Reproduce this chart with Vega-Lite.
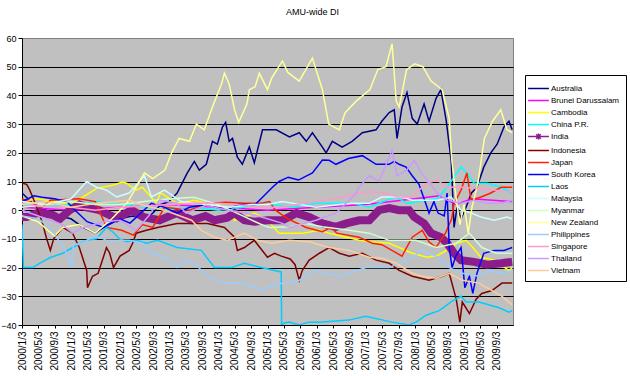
{
  "$schema": "https://vega.github.io/schema/vega-lite/v6.json",
  "autosize": "none",
  "width": 491,
  "height": 287,
  "padding": {"left": 22, "top": 38, "right": 117, "bottom": 51},
  "background": "white",
  "title": {"text": "AMU-wide DI", "fontSize": 9, "fontWeight": "normal", "font": "Liberation Sans", "color": "black", "frame": "group", "anchor": "middle", "dx": 45, "offset": 17},
  "config": {
    "view": {"fill": "#c0c0c0", "stroke": "#808080", "strokeWidth": 1},
    "axis": {"labelFont": "Liberation Sans", "labelColor": "black", "domainColor": "black", "tickColor": "black", "title": null}
  },
  "data": {"values": [
    {"s":"Australia","t":"2000/1/3","v":6},{"s":"Australia","t":"2000/4/1","v":2},{"s":"Australia","t":"2000/7/1","v":0},{"s":"Australia","t":"2000/10/1","v":-2},{"s":"Australia","t":"2001/1/1","v":-3},{"s":"Australia","t":"2001/4/1","v":-6},{"s":"Australia","t":"2001/7/1","v":-8},{"s":"Australia","t":"2001/10/1","v":-5},{"s":"Australia","t":"2002/1/1","v":-3},{"s":"Australia","t":"2002/4/1","v":-2},{"s":"Australia","t":"2002/7/1","v":-3},{"s":"Australia","t":"2002/9/1","v":-1},{"s":"Australia","t":"2002/11/1","v":2},{"s":"Australia","t":"2003/1/1","v":3},{"s":"Australia","t":"2003/3/1","v":6},{"s":"Australia","t":"2003/5/16","v":13},{"s":"Australia","t":"2003/7/7","v":17},{"s":"Australia","t":"2003/8/13","v":14},{"s":"Australia","t":"2003/10/4","v":16},{"s":"Australia","t":"2003/11/19","v":24},{"s":"Australia","t":"2003/12/25","v":23},{"s":"Australia","t":"2004/2/1","v":29},{"s":"Australia","t":"2004/2/25","v":30.6},{"s":"Australia","t":"2004/3/22","v":24},{"s":"Australia","t":"2004/4/16","v":25},{"s":"Australia","t":"2004/5/22","v":18.5},{"s":"Australia","t":"2004/6/28","v":16},{"s":"Australia","t":"2004/8/19","v":22},{"s":"Australia","t":"2004/9/25","v":16.5},{"s":"Australia","t":"2004/11/25","v":28},{"s":"Australia","t":"2005/3/7","v":28},{"s":"Australia","t":"2005/6/13","v":25.5},{"s":"Australia","t":"2005/8/25","v":27},{"s":"Australia","t":"2005/10/16","v":24},{"s":"Australia","t":"2005/12/1","v":27},{"s":"Australia","t":"2006/2/13","v":22},{"s":"Australia","t":"2006/3/13","v":20},{"s":"Australia","t":"2006/4/28","v":24},{"s":"Australia","t":"2006/7/10","v":22},{"s":"Australia","t":"2006/9/22","v":24},{"s":"Australia","t":"2006/12/7","v":27},{"s":"Australia","t":"2007/3/19","v":28},{"s":"Australia","t":"2007/5/1","v":31},{"s":"Australia","t":"2007/6/25","v":34},{"s":"Australia","t":"2007/8/1","v":35},{"s":"Australia","t":"2007/8/22","v":25},{"s":"Australia","t":"2007/9/28","v":36},{"s":"Australia","t":"2007/11/4","v":41},{"s":"Australia","t":"2007/12/13","v":32},{"s":"Australia","t":"2008/1/19","v":30},{"s":"Australia","t":"2008/3/10","v":37},{"s":"Australia","t":"2008/4/16","v":31},{"s":"Australia","t":"2008/6/7","v":39},{"s":"Australia","t":"2008/7/13","v":42},{"s":"Australia","t":"2008/8/22","v":31},{"s":"Australia","t":"2008/9/28","v":17},{"s":"Australia","t":"2008/10/19","v":-6},{"s":"Australia","t":"2008/11/10","v":1},{"s":"Australia","t":"2008/12/10","v":-3},{"s":"Australia","t":"2009/1/16","v":1},{"s":"Australia","t":"2009/2/25","v":6},{"s":"Australia","t":"2009/4/7","v":8},{"s":"Australia","t":"2009/5/28","v":15},{"s":"Australia","t":"2009/7/19","v":20},{"s":"Australia","t":"2009/9/4","v":23},{"s":"Australia","t":"2009/10/25","v":29},{"s":"Australia","t":"2009/12/1","v":31},{"s":"Australia","t":"2009/12/25","v":28},
    {"s":"Brunei Darussalam","t":"2000/1/3","v":1},{"s":"Brunei Darussalam","t":"2001/1/1","v":0},{"s":"Brunei Darussalam","t":"2002/1/1","v":1},{"s":"Brunei Darussalam","t":"2003/1/1","v":2},{"s":"Brunei Darussalam","t":"2004/1/1","v":1},{"s":"Brunei Darussalam","t":"2005/1/1","v":0},{"s":"Brunei Darussalam","t":"2006/1/1","v":1},{"s":"Brunei Darussalam","t":"2007/1/1","v":2},{"s":"Brunei Darussalam","t":"2008/1/1","v":4},{"s":"Brunei Darussalam","t":"2008/7/1","v":5},{"s":"Brunei Darussalam","t":"2008/11/1","v":2},{"s":"Brunei Darussalam","t":"2009/3/1","v":4},{"s":"Brunei Darussalam","t":"2009/12/25","v":3},
    {"s":"Cambodia","t":"2000/1/3","v":3},{"s":"Cambodia","t":"2000/5/1","v":4},{"s":"Cambodia","t":"2000/9/1","v":3},{"s":"Cambodia","t":"2001/1/1","v":2},{"s":"Cambodia","t":"2001/4/1","v":4.6},{"s":"Cambodia","t":"2001/7/10","v":7.6},{"s":"Cambodia","t":"2001/11/7","v":8.7},{"s":"Cambodia","t":"2002/1/19","v":9.8},{"s":"Cambodia","t":"2002/2/19","v":9.4},{"s":"Cambodia","t":"2002/5/1","v":7},{"s":"Cambodia","t":"2002/6/16","v":8},{"s":"Cambodia","t":"2002/9/28","v":2.4},{"s":"Cambodia","t":"2002/10/28","v":6},{"s":"Cambodia","t":"2003/3/1","v":2.4},{"s":"Cambodia","t":"2003/7/7","v":3.5},{"s":"Cambodia","t":"2003/11/1","v":2},{"s":"Cambodia","t":"2004/3/7","v":1},{"s":"Cambodia","t":"2004/5/1","v":-3.5},{"s":"Cambodia","t":"2004/7/13","v":-2.4},{"s":"Cambodia","t":"2004/9/25","v":-1},{"s":"Cambodia","t":"2005/1/1","v":-3.5},{"s":"Cambodia","t":"2005/3/28","v":-8},{"s":"Cambodia","t":"2005/6/13","v":-8},{"s":"Cambodia","t":"2005/9/22","v":-8},{"s":"Cambodia","t":"2006/1/22","v":-7},{"s":"Cambodia","t":"2006/4/4","v":-8},{"s":"Cambodia","t":"2006/8/10","v":-9.4},{"s":"Cambodia","t":"2006/11/13","v":-10.5},{"s":"Cambodia","t":"2007/2/19","v":-11},{"s":"Cambodia","t":"2007/6/25","v":-11.5},{"s":"Cambodia","t":"2007/12/13","v":-15},{"s":"Cambodia","t":"2008/4/1","v":-16.4},{"s":"Cambodia","t":"2008/6/22","v":-15.7},{"s":"Cambodia","t":"2008/9/28","v":-13},{"s":"Cambodia","t":"2008/11/10","v":-11.5},{"s":"Cambodia","t":"2009/1/16","v":-10.5},{"s":"Cambodia","t":"2009/3/7","v":-13},{"s":"Cambodia","t":"2009/5/7","v":-16.4},{"s":"Cambodia","t":"2009/8/13","v":-17.4},{"s":"Cambodia","t":"2009/12/1","v":-21},{"s":"Cambodia","t":"2009/12/25","v":-20},
    {"s":"China P.R.","t":"2000/1/3","v":2},{"s":"China P.R.","t":"2000/7/1","v":1},{"s":"China P.R.","t":"2001/1/1","v":2},{"s":"China P.R.","t":"2001/7/1","v":3},{"s":"China P.R.","t":"2002/1/1","v":2},{"s":"China P.R.","t":"2002/7/1","v":1},{"s":"China P.R.","t":"2003/1/1","v":0},{"s":"China P.R.","t":"2003/7/1","v":1},{"s":"China P.R.","t":"2004/1/1","v":0},{"s":"China P.R.","t":"2004/7/1","v":1},{"s":"China P.R.","t":"2004/11/16","v":2.4},{"s":"China P.R.","t":"2005/7/1","v":1},{"s":"China P.R.","t":"2005/12/28","v":2.4},{"s":"China P.R.","t":"2006/4/4","v":2.4},{"s":"China P.R.","t":"2006/10/1","v":2.4},{"s":"China P.R.","t":"2007/1/28","v":1},{"s":"China P.R.","t":"2007/4/10","v":2.4},{"s":"China P.R.","t":"2007/6/4","v":3.5},{"s":"China P.R.","t":"2007/8/16","v":4.6},{"s":"China P.R.","t":"2007/11/4","v":2.4},{"s":"China P.R.","t":"2008/4/1","v":3.5},{"s":"China P.R.","t":"2008/6/16","v":4},{"s":"China P.R.","t":"2008/8/28","v":8},{"s":"China P.R.","t":"2008/10/19","v":11.5},{"s":"China P.R.","t":"2008/12/10","v":15},{"s":"China P.R.","t":"2009/1/22","v":13},{"s":"China P.R.","t":"2009/3/16","v":9.4},{"s":"China P.R.","t":"2009/6/22","v":9.4},{"s":"China P.R.","t":"2009/10/4","v":8},{"s":"China P.R.","t":"2009/12/25","v":6},
    {"s":"India","t":"2000/1/3","v":-2.4},{"s":"India","t":"2000/2/7","v":-2.4},{"s":"India","t":"2000/5/13","v":-0.7},{"s":"India","t":"2000/6/4","v":-1},{"s":"India","t":"2000/8/19","v":-1.7},{"s":"India","t":"2000/10/10","v":-3},{"s":"India","t":"2000/12/22","v":0},{"s":"India","t":"2001/3/4","v":2},{"s":"India","t":"2001/4/28","v":1},{"s":"India","t":"2001/8/1","v":0},{"s":"India","t":"2001/10/16","v":-1.7},{"s":"India","t":"2001/12/7","v":-2.8},{"s":"India","t":"2002/3/28","v":0},{"s":"India","t":"2002/6/25","v":-2.4},{"s":"India","t":"2002/10/22","v":-3.5},{"s":"India","t":"2003/2/25","v":-1},{"s":"India","t":"2003/6/22","v":-3.5},{"s":"India","t":"2003/9/28","v":-2},{"s":"India","t":"2003/12/4","v":-3.5},{"s":"India","t":"2004/3/7","v":-2.6},{"s":"India","t":"2004/5/1","v":-1},{"s":"India","t":"2004/7/13","v":-3.5},{"s":"India","t":"2004/9/25","v":-4},{"s":"India","t":"2005/1/1","v":-3.5},{"s":"India","t":"2005/4/22","v":-3.5},{"s":"India","t":"2005/8/4","v":-1},{"s":"India","t":"2005/11/7","v":-2.4},{"s":"India","t":"2006/2/13","v":-4.6},{"s":"India","t":"2006/5/25","v":-5.8},{"s":"India","t":"2006/8/10","v":-4.6},{"s":"India","t":"2006/11/13","v":-3.5},{"s":"India","t":"2007/1/28","v":-3.5},{"s":"India","t":"2007/4/10","v":0},{"s":"India","t":"2007/6/25","v":0.7},{"s":"India","t":"2007/9/7","v":0},{"s":"India","t":"2007/11/19","v":0},{"s":"India","t":"2007/12/28","v":-2.4},{"s":"India","t":"2008/3/10","v":-4.6},{"s":"India","t":"2008/5/1","v":-8},{"s":"India","t":"2008/7/13","v":-9.4},{"s":"India","t":"2008/8/28","v":-11.5},{"s":"India","t":"2008/10/19","v":-15},{"s":"India","t":"2008/12/10","v":-17.4},{"s":"India","t":"2009/3/16","v":-18},{"s":"India","t":"2009/6/22","v":-19},{"s":"India","t":"2009/10/4","v":-18.5},{"s":"India","t":"2009/12/25","v":-18},
    {"s":"Indonesia","t":"2000/1/3","v":9.4},{"s":"Indonesia","t":"2000/2/7","v":9},{"s":"Indonesia","t":"2000/3/1","v":7},{"s":"Indonesia","t":"2000/4/22","v":1},{"s":"Indonesia","t":"2000/6/4","v":-4.6},{"s":"Indonesia","t":"2000/7/1","v":-9.4},{"s":"Indonesia","t":"2000/8/1","v":-14},{"s":"Indonesia","t":"2000/8/25","v":-10},{"s":"Indonesia","t":"2000/11/1","v":-6},{"s":"Indonesia","t":"2001/1/13","v":-8},{"s":"Indonesia","t":"2001/3/4","v":-13},{"s":"Indonesia","t":"2001/4/28","v":-21},{"s":"Indonesia","t":"2001/5/4","v":-27},{"s":"Indonesia","t":"2001/6/10","v":-23},{"s":"Indonesia","t":"2001/7/22","v":-22},{"s":"Indonesia","t":"2001/9/22","v":-13},{"s":"Indonesia","t":"2001/10/16","v":-15},{"s":"Indonesia","t":"2001/11/13","v":-20},{"s":"Indonesia","t":"2002/1/1","v":-16},{"s":"Indonesia","t":"2002/3/10","v":-14},{"s":"Indonesia","t":"2002/4/4","v":-11.5},{"s":"Indonesia","t":"2002/5/1","v":-8},{"s":"Indonesia","t":"2002/7/16","v":-7},{"s":"Indonesia","t":"2002/10/7","v":-6},{"s":"Indonesia","t":"2003/3/1","v":-4.6},{"s":"Indonesia","t":"2003/10/13","v":-4.6},{"s":"Indonesia","t":"2004/2/16","v":-6},{"s":"Indonesia","t":"2004/5/1","v":-9.4},{"s":"Indonesia","t":"2004/5/22","v":-14},{"s":"Indonesia","t":"2004/7/13","v":-13},{"s":"Indonesia","t":"2004/9/25","v":-10.5},{"s":"Indonesia","t":"2005/1/1","v":-16.4},{"s":"Indonesia","t":"2005/2/22","v":-15},{"s":"Indonesia","t":"2005/4/13","v":-16},{"s":"Indonesia","t":"2005/6/19","v":-17},{"s":"Indonesia","t":"2005/7/25","v":-19},{"s":"Indonesia","t":"2005/8/25","v":-24.4},{"s":"Indonesia","t":"2005/9/16","v":-21},{"s":"Indonesia","t":"2005/11/7","v":-17.4},{"s":"Indonesia","t":"2006/1/22","v":-15},{"s":"Indonesia","t":"2006/4/4","v":-13},{"s":"Indonesia","t":"2006/6/19","v":-15},{"s":"Indonesia","t":"2006/9/1","v":-16},{"s":"Indonesia","t":"2006/12/7","v":-15},{"s":"Indonesia","t":"2007/3/19","v":-17.4},{"s":"Indonesia","t":"2007/6/25","v":-18.5},{"s":"Indonesia","t":"2007/9/7","v":-21},{"s":"Indonesia","t":"2007/12/13","v":-23},{"s":"Indonesia","t":"2008/4/16","v":-24.4},{"s":"Indonesia","t":"2008/7/22","v":-23},{"s":"Indonesia","t":"2008/9/13","v":-22},{"s":"Indonesia","t":"2008/11/4","v":-31},{"s":"Indonesia","t":"2008/12/1","v":-39},{"s":"Indonesia","t":"2008/12/19","v":-32},{"s":"Indonesia","t":"2009/2/10","v":-36},{"s":"Indonesia","t":"2009/4/1","v":-31},{"s":"Indonesia","t":"2009/5/13","v":-29},{"s":"Indonesia","t":"2009/7/28","v":-28},{"s":"Indonesia","t":"2009/10/10","v":-25.4},{"s":"Indonesia","t":"2009/12/25","v":-25.4},
    {"s":"Japan","t":"2000/1/3","v":4},{"s":"Japan","t":"2000/6/1","v":1},{"s":"Japan","t":"2000/8/1","v":3.5},{"s":"Japan","t":"2001/3/1","v":4},{"s":"Japan","t":"2001/7/1","v":3},{"s":"Japan","t":"2001/9/22","v":-6},{"s":"Japan","t":"2002/1/13","v":-7},{"s":"Japan","t":"2002/4/10","v":-8.7},{"s":"Japan","t":"2002/6/16","v":-5},{"s":"Japan","t":"2002/9/1","v":-6},{"s":"Japan","t":"2002/11/28","v":1},{"s":"Japan","t":"2003/6/1","v":0},{"s":"Japan","t":"2003/10/13","v":2.4},{"s":"Japan","t":"2004/3/1","v":2.8},{"s":"Japan","t":"2004/7/13","v":2.4},{"s":"Japan","t":"2004/11/16","v":2.4},{"s":"Japan","t":"2005/1/16","v":3},{"s":"Japan","t":"2005/3/1","v":0},{"s":"Japan","t":"2005/6/1","v":-3},{"s":"Japan","t":"2005/10/16","v":-6},{"s":"Japan","t":"2006/2/13","v":-7.5},{"s":"Japan","t":"2006/4/19","v":-6},{"s":"Japan","t":"2006/6/1","v":-8},{"s":"Japan","t":"2006/11/13","v":-9.4},{"s":"Japan","t":"2007/2/19","v":-11.5},{"s":"Japan","t":"2007/5/1","v":-12},{"s":"Japan","t":"2007/9/28","v":-16},{"s":"Japan","t":"2007/12/13","v":-9.4},{"s":"Japan","t":"2008/2/25","v":-7},{"s":"Japan","t":"2008/4/16","v":-11},{"s":"Japan","t":"2008/6/7","v":-13},{"s":"Japan","t":"2008/8/16","v":-8},{"s":"Japan","t":"2008/10/1","v":-3},{"s":"Japan","t":"2008/10/19","v":2.4},{"s":"Japan","t":"2008/12/10","v":7},{"s":"Japan","t":"2009/1/22","v":13},{"s":"Japan","t":"2009/2/22","v":3.5},{"s":"Japan","t":"2009/5/7","v":4.6},{"s":"Japan","t":"2009/7/19","v":6},{"s":"Japan","t":"2009/10/4","v":8},{"s":"Japan","t":"2009/12/25","v":8},
    {"s":"South Korea","t":"2000/1/3","v":3},{"s":"South Korea","t":"2000/4/1","v":5},{"s":"South Korea","t":"2000/6/1","v":4.5},{"s":"South Korea","t":"2000/9/1","v":4},{"s":"South Korea","t":"2000/12/1","v":3},{"s":"South Korea","t":"2001/2/1","v":0},{"s":"South Korea","t":"2001/5/1","v":-4},{"s":"South Korea","t":"2001/9/1","v":-6},{"s":"South Korea","t":"2002/1/1","v":-3},{"s":"South Korea","t":"2002/3/16","v":-4.5},{"s":"South Korea","t":"2002/8/22","v":2.4},{"s":"South Korea","t":"2002/11/28","v":1},{"s":"South Korea","t":"2003/3/1","v":-1},{"s":"South Korea","t":"2003/6/1","v":1},{"s":"South Korea","t":"2003/10/1","v":2},{"s":"South Korea","t":"2004/3/1","v":0},{"s":"South Korea","t":"2004/6/1","v":2},{"s":"South Korea","t":"2004/10/1","v":2},{"s":"South Korea","t":"2004/11/25","v":4.5},{"s":"South Korea","t":"2005/2/7","v":8},{"s":"South Korea","t":"2005/3/28","v":10},{"s":"South Korea","t":"2005/6/4","v":11.5},{"s":"South Korea","t":"2005/8/19","v":10.5},{"s":"South Korea","t":"2005/12/1","v":13},{"s":"South Korea","t":"2006/2/13","v":17.5},{"s":"South Korea","t":"2006/4/4","v":17.4},{"s":"South Korea","t":"2006/5/25","v":16},{"s":"South Korea","t":"2006/8/25","v":18},{"s":"South Korea","t":"2006/12/7","v":19},{"s":"South Korea","t":"2007/3/19","v":16},{"s":"South Korea","t":"2007/6/25","v":16},{"s":"South Korea","t":"2007/8/1","v":17},{"s":"South Korea","t":"2007/9/7","v":16},{"s":"South Korea","t":"2007/10/28","v":15},{"s":"South Korea","t":"2007/12/13","v":12},{"s":"South Korea","t":"2008/2/1","v":9},{"s":"South Korea","t":"2008/3/10","v":4},{"s":"South Korea","t":"2008/4/16","v":-1},{"s":"South Korea","t":"2008/5/22","v":3},{"s":"South Korea","t":"2008/6/22","v":-1},{"s":"South Korea","t":"2008/8/7","v":-2},{"s":"South Korea","t":"2008/8/28","v":6},{"s":"South Korea","t":"2008/9/13","v":-13},{"s":"South Korea","t":"2008/10/4","v":-20},{"s":"South Korea","t":"2008/11/1","v":-16},{"s":"South Korea","t":"2008/12/10","v":-13},{"s":"South Korea","t":"2009/1/7","v":-27},{"s":"South Korea","t":"2009/2/10","v":-23},{"s":"South Korea","t":"2009/3/7","v":-29},{"s":"South Korea","t":"2009/4/7","v":-22},{"s":"South Korea","t":"2009/5/28","v":-15},{"s":"South Korea","t":"2009/8/13","v":-14},{"s":"South Korea","t":"2009/10/25","v":-14},{"s":"South Korea","t":"2009/12/25","v":-13},
    {"s":"Laos","t":"2000/1/3","v":-5},{"s":"Laos","t":"2000/1/14","v":-20},{"s":"Laos","t":"2000/3/22","v":-20},{"s":"Laos","t":"2000/5/13","v":-18.5},{"s":"Laos","t":"2000/8/1","v":-16.5},{"s":"Laos","t":"2000/11/1","v":-15},{"s":"Laos","t":"2001/1/13","v":-13},{"s":"Laos","t":"2001/4/28","v":-10.5},{"s":"Laos","t":"2001/7/10","v":-10},{"s":"Laos","t":"2001/9/22","v":-6},{"s":"Laos","t":"2001/11/7","v":-7.5},{"s":"Laos","t":"2001/12/28","v":-10},{"s":"Laos","t":"2002/2/19","v":-11},{"s":"Laos","t":"2002/5/1","v":-10.5},{"s":"Laos","t":"2002/7/16","v":-11.5},{"s":"Laos","t":"2002/10/7","v":-10.5},{"s":"Laos","t":"2003/3/1","v":-13},{"s":"Laos","t":"2003/8/28","v":-14},{"s":"Laos","t":"2003/12/4","v":-20},{"s":"Laos","t":"2004/4/7","v":-20},{"s":"Laos","t":"2004/7/13","v":-18.5},{"s":"Laos","t":"2004/11/16","v":-20},{"s":"Laos","t":"2005/2/22","v":-21},{"s":"Laos","t":"2005/4/13","v":-21.5},{"s":"Laos","t":"2005/4/16","v":-40},{"s":"Laos","t":"2005/5/1","v":-39.4},{"s":"Laos","t":"2005/6/13","v":-39},{"s":"Laos","t":"2005/8/25","v":-40},{"s":"Laos","t":"2005/11/7","v":-39},{"s":"Laos","t":"2006/1/19","v":-39},{"s":"Laos","t":"2006/8/28","v":-38.3},{"s":"Laos","t":"2007/1/1","v":-37},{"s":"Laos","t":"2007/7/16","v":-39},{"s":"Laos","t":"2007/11/19","v":-40},{"s":"Laos","t":"2008/1/10","v":-39},{"s":"Laos","t":"2008/3/25","v":-36.6},{"s":"Laos","t":"2008/7/1","v":-35},{"s":"Laos","t":"2008/10/4","v":-31.7},{"s":"Laos","t":"2008/12/10","v":-30},{"s":"Laos","t":"2009/1/16","v":-32},{"s":"Laos","t":"2009/4/22","v":-32},{"s":"Laos","t":"2009/9/19","v":-34},{"s":"Laos","t":"2009/12/1","v":-35.5},{"s":"Laos","t":"2009/12/25","v":-35},
    {"s":"Malaysia","t":"2000/1/3","v":3},{"s":"Malaysia","t":"2000/7/1","v":2},{"s":"Malaysia","t":"2001/1/1","v":4},{"s":"Malaysia","t":"2001/4/28","v":10},{"s":"Malaysia","t":"2001/7/10","v":8},{"s":"Malaysia","t":"2001/9/22","v":7},{"s":"Malaysia","t":"2001/12/7","v":4.6},{"s":"Malaysia","t":"2002/3/10","v":6},{"s":"Malaysia","t":"2002/5/25","v":10},{"s":"Malaysia","t":"2002/7/1","v":12},{"s":"Malaysia","t":"2002/8/22","v":4.6},{"s":"Malaysia","t":"2002/11/28","v":7},{"s":"Malaysia","t":"2003/4/1","v":3},{"s":"Malaysia","t":"2003/10/1","v":2},{"s":"Malaysia","t":"2004/4/1","v":1},{"s":"Malaysia","t":"2004/9/1","v":2},{"s":"Malaysia","t":"2005/1/1","v":2},{"s":"Malaysia","t":"2005/4/22","v":3},{"s":"Malaysia","t":"2005/12/28","v":1},{"s":"Malaysia","t":"2006/9/16","v":2.4},{"s":"Malaysia","t":"2007/1/28","v":2.4},{"s":"Malaysia","t":"2007/5/1","v":4.6},{"s":"Malaysia","t":"2007/9/28","v":4.6},{"s":"Malaysia","t":"2007/12/13","v":3.5},{"s":"Malaysia","t":"2008/6/22","v":3.5},{"s":"Malaysia","t":"2008/9/28","v":4.6},{"s":"Malaysia","t":"2008/12/10","v":0},{"s":"Malaysia","t":"2009/2/25","v":-1},{"s":"Malaysia","t":"2009/5/7","v":-2.4},{"s":"Malaysia","t":"2009/8/13","v":-3.5},{"s":"Malaysia","t":"2009/11/16","v":-2.4},{"s":"Malaysia","t":"2009/12/25","v":-3},
    {"s":"Myanmar","t":"2000/1/3","v":1},{"s":"Myanmar","t":"2000/7/1","v":2},{"s":"Myanmar","t":"2001/1/1","v":3},{"s":"Myanmar","t":"2001/7/1","v":2},{"s":"Myanmar","t":"2002/1/1","v":2},{"s":"Myanmar","t":"2002/7/1","v":3},{"s":"Myanmar","t":"2003/1/1","v":4},{"s":"Myanmar","t":"2003/7/1","v":4.5},{"s":"Myanmar","t":"2004/1/1","v":2},{"s":"Myanmar","t":"2004/7/1","v":-2},{"s":"Myanmar","t":"2004/11/16","v":-5},{"s":"Myanmar","t":"2005/1/16","v":-6},{"s":"Myanmar","t":"2005/6/13","v":-5.8},{"s":"Myanmar","t":"2005/10/16","v":-4.6},{"s":"Myanmar","t":"2006/2/13","v":-5.8},{"s":"Myanmar","t":"2006/9/1","v":-7},{"s":"Myanmar","t":"2007/1/28","v":-8},{"s":"Myanmar","t":"2007/6/25","v":-10.5},{"s":"Myanmar","t":"2008/1/10","v":-10.5},{"s":"Myanmar","t":"2008/6/7","v":-13},{"s":"Myanmar","t":"2008/11/4","v":-11.5},{"s":"Myanmar","t":"2009/2/10","v":-8},{"s":"Myanmar","t":"2009/5/13","v":-13},{"s":"Myanmar","t":"2009/8/28","v":-15},{"s":"Myanmar","t":"2009/12/25","v":-15},
    {"s":"New Zealand","t":"2000/1/3","v":-2},{"s":"New Zealand","t":"2000/5/1","v":-4},{"s":"New Zealand","t":"2000/9/1","v":-9},{"s":"New Zealand","t":"2000/11/1","v":-6},{"s":"New Zealand","t":"2001/3/1","v":-5},{"s":"New Zealand","t":"2001/7/1","v":-8},{"s":"New Zealand","t":"2001/11/1","v":-3},{"s":"New Zealand","t":"2002/1/1","v":0},{"s":"New Zealand","t":"2002/3/1","v":3},{"s":"New Zealand","t":"2002/5/1","v":8},{"s":"New Zealand","t":"2002/7/1","v":13},{"s":"New Zealand","t":"2002/9/1","v":11},{"s":"New Zealand","t":"2002/12/1","v":14},{"s":"New Zealand","t":"2003/1/19","v":20},{"s":"New Zealand","t":"2003/3/16","v":25},{"s":"New Zealand","t":"2003/6/1","v":24},{"s":"New Zealand","t":"2003/7/22","v":30},{"s":"New Zealand","t":"2003/9/19","v":28},{"s":"New Zealand","t":"2003/11/19","v":36},{"s":"New Zealand","t":"2004/1/25","v":44},{"s":"New Zealand","t":"2004/2/16","v":47.7},{"s":"New Zealand","t":"2004/3/22","v":44},{"s":"New Zealand","t":"2004/5/1","v":35},{"s":"New Zealand","t":"2004/6/1","v":30.6},{"s":"New Zealand","t":"2004/8/1","v":37},{"s":"New Zealand","t":"2004/8/19","v":42},{"s":"New Zealand","t":"2004/10/1","v":43},{"s":"New Zealand","t":"2004/11/1","v":47.7},{"s":"New Zealand","t":"2005/1/1","v":42},{"s":"New Zealand","t":"2005/2/1","v":46},{"s":"New Zealand","t":"2005/4/22","v":52},{"s":"New Zealand","t":"2005/6/1","v":48},{"s":"New Zealand","t":"2005/8/25","v":45},{"s":"New Zealand","t":"2005/10/1","v":48},{"s":"New Zealand","t":"2005/12/1","v":53},{"s":"New Zealand","t":"2006/2/13","v":42},{"s":"New Zealand","t":"2006/4/1","v":30},{"s":"New Zealand","t":"2006/6/19","v":28},{"s":"New Zealand","t":"2006/8/1","v":34},{"s":"New Zealand","t":"2006/10/22","v":38},{"s":"New Zealand","t":"2007/2/1","v":42},{"s":"New Zealand","t":"2007/4/1","v":49},{"s":"New Zealand","t":"2007/6/1","v":50},{"s":"New Zealand","t":"2007/7/16","v":58},{"s":"New Zealand","t":"2007/8/16","v":38},{"s":"New Zealand","t":"2007/9/7","v":36},{"s":"New Zealand","t":"2007/11/1","v":49},{"s":"New Zealand","t":"2008/1/1","v":51},{"s":"New Zealand","t":"2008/3/1","v":50},{"s":"New Zealand","t":"2008/5/1","v":45},{"s":"New Zealand","t":"2008/7/22","v":42},{"s":"New Zealand","t":"2008/9/13","v":32},{"s":"New Zealand","t":"2008/10/1","v":18},{"s":"New Zealand","t":"2008/11/1","v":5},{"s":"New Zealand","t":"2008/12/1","v":-5},{"s":"New Zealand","t":"2009/1/1","v":2},{"s":"New Zealand","t":"2009/2/1","v":-8},{"s":"New Zealand","t":"2009/3/1","v":1},{"s":"New Zealand","t":"2009/4/16","v":10},{"s":"New Zealand","t":"2009/6/1","v":25},{"s":"New Zealand","t":"2009/8/1","v":31},{"s":"New Zealand","t":"2009/10/1","v":35},{"s":"New Zealand","t":"2009/11/16","v":28},{"s":"New Zealand","t":"2009/12/25","v":27},
    {"s":"Philippines","t":"2000/1/3","v":-2},{"s":"Philippines","t":"2000/5/1","v":-3},{"s":"Philippines","t":"2000/8/1","v":-6},{"s":"Philippines","t":"2000/12/1","v":-15},{"s":"Philippines","t":"2001/1/7","v":-20},{"s":"Philippines","t":"2001/1/19","v":-12},{"s":"Philippines","t":"2001/3/25","v":-11.5},{"s":"Philippines","t":"2001/6/10","v":-9.4},{"s":"Philippines","t":"2001/8/1","v":-9.4},{"s":"Philippines","t":"2001/9/22","v":-10.5},{"s":"Philippines","t":"2002/3/10","v":-10.5},{"s":"Philippines","t":"2002/6/16","v":-11.5},{"s":"Philippines","t":"2002/8/22","v":-15},{"s":"Philippines","t":"2002/12/1","v":-16.4},{"s":"Philippines","t":"2003/3/1","v":-20},{"s":"Philippines","t":"2003/4/25","v":-17.4},{"s":"Philippines","t":"2003/7/7","v":-18.5},{"s":"Philippines","t":"2003/10/13","v":-23},{"s":"Philippines","t":"2004/2/16","v":-25.4},{"s":"Philippines","t":"2004/6/22","v":-25.4},{"s":"Philippines","t":"2004/9/25","v":-26.7},{"s":"Philippines","t":"2004/11/16","v":-27.5},{"s":"Philippines","t":"2005/1/1","v":-27},{"s":"Philippines","t":"2005/4/22","v":-25.4},{"s":"Philippines","t":"2005/7/10","v":-25},{"s":"Philippines","t":"2005/8/25","v":-24.4},{"s":"Philippines","t":"2005/12/28","v":-21},{"s":"Philippines","t":"2006/6/19","v":-23},{"s":"Philippines","t":"2007/1/4","v":-20},{"s":"Philippines","t":"2007/6/25","v":-20},{"s":"Philippines","t":"2007/12/13","v":-16.4},{"s":"Philippines","t":"2008/2/25","v":-14},{"s":"Philippines","t":"2008/6/7","v":-16},{"s":"Philippines","t":"2008/9/13","v":-20},{"s":"Philippines","t":"2008/12/19","v":-22},{"s":"Philippines","t":"2009/4/22","v":-23},{"s":"Philippines","t":"2009/7/4","v":-21},{"s":"Philippines","t":"2009/10/10","v":-22},{"s":"Philippines","t":"2009/12/25","v":-21},
    {"s":"Singapore","t":"2000/1/3","v":2.4},{"s":"Singapore","t":"2000/7/1","v":1},{"s":"Singapore","t":"2001/1/1","v":1},{"s":"Singapore","t":"2001/7/1","v":0},{"s":"Singapore","t":"2002/1/1","v":1},{"s":"Singapore","t":"2002/7/1","v":1.5},{"s":"Singapore","t":"2003/1/1","v":2},{"s":"Singapore","t":"2003/7/1","v":2.4},{"s":"Singapore","t":"2004/1/1","v":2.4},{"s":"Singapore","t":"2004/7/1","v":1.7},{"s":"Singapore","t":"2004/11/1","v":1},{"s":"Singapore","t":"2005/4/22","v":1},{"s":"Singapore","t":"2005/9/22","v":2.4},{"s":"Singapore","t":"2006/3/13","v":3.5},{"s":"Singapore","t":"2006/7/10","v":4.6},{"s":"Singapore","t":"2006/11/13","v":6},{"s":"Singapore","t":"2007/1/28","v":6.4},{"s":"Singapore","t":"2007/6/4","v":6},{"s":"Singapore","t":"2007/8/22","v":4.6},{"s":"Singapore","t":"2007/12/4","v":4.6},{"s":"Singapore","t":"2008/4/1","v":9.4},{"s":"Singapore","t":"2008/6/16","v":10.5},{"s":"Singapore","t":"2008/8/28","v":8},{"s":"Singapore","t":"2008/12/10","v":8},{"s":"Singapore","t":"2009/4/7","v":7.6},{"s":"Singapore","t":"2009/8/13","v":7},{"s":"Singapore","t":"2009/11/16","v":6.4},{"s":"Singapore","t":"2009/12/25","v":6.4},
    {"s":"Thailand","t":"2000/1/3","v":0},{"s":"Thailand","t":"2000/7/1","v":-3},{"s":"Thailand","t":"2000/11/1","v":-5},{"s":"Thailand","t":"2001/1/13","v":-8},{"s":"Thailand","t":"2001/4/1","v":-6},{"s":"Thailand","t":"2001/9/1","v":-4},{"s":"Thailand","t":"2002/1/1","v":-3.5},{"s":"Thailand","t":"2002/5/1","v":-7},{"s":"Thailand","t":"2002/8/1","v":-2},{"s":"Thailand","t":"2002/10/22","v":3.5},{"s":"Thailand","t":"2003/2/25","v":2.4},{"s":"Thailand","t":"2003/5/7","v":-1},{"s":"Thailand","t":"2003/10/1","v":1.7},{"s":"Thailand","t":"2004/3/7","v":0},{"s":"Thailand","t":"2004/8/1","v":-1},{"s":"Thailand","t":"2005/1/1","v":-3},{"s":"Thailand","t":"2005/4/22","v":-4.6},{"s":"Thailand","t":"2005/6/13","v":-6},{"s":"Thailand","t":"2005/12/28","v":-3.5},{"s":"Thailand","t":"2006/5/25","v":-1},{"s":"Thailand","t":"2006/9/1","v":3.5},{"s":"Thailand","t":"2006/10/22","v":6},{"s":"Thailand","t":"2006/11/13","v":8},{"s":"Thailand","t":"2007/1/28","v":12},{"s":"Thailand","t":"2007/4/10","v":10},{"s":"Thailand","t":"2007/6/25","v":18.5},{"s":"Thailand","t":"2007/7/16","v":21},{"s":"Thailand","t":"2007/8/22","v":12},{"s":"Thailand","t":"2007/11/4","v":14},{"s":"Thailand","t":"2007/12/28","v":17.4},{"s":"Thailand","t":"2008/2/19","v":13},{"s":"Thailand","t":"2008/4/1","v":10.5},{"s":"Thailand","t":"2008/6/16","v":6},{"s":"Thailand","t":"2008/8/28","v":3.5},{"s":"Thailand","t":"2008/12/10","v":2.4},{"s":"Thailand","t":"2009/3/16","v":3.5},{"s":"Thailand","t":"2009/6/22","v":2.4},{"s":"Thailand","t":"2009/10/4","v":2.4},{"s":"Thailand","t":"2009/12/25","v":3.5},
    {"s":"Vietnam","t":"2000/1/3","v":2},{"s":"Vietnam","t":"2000/7/1","v":3},{"s":"Vietnam","t":"2001/1/1","v":1},{"s":"Vietnam","t":"2001/7/10","v":2.4},{"s":"Vietnam","t":"2002/3/10","v":3.5},{"s":"Vietnam","t":"2002/6/16","v":1.7},{"s":"Vietnam","t":"2002/11/28","v":0},{"s":"Vietnam","t":"2003/6/16","v":-3.5},{"s":"Vietnam","t":"2003/8/28","v":-7},{"s":"Vietnam","t":"2003/12/4","v":-9.4},{"s":"Vietnam","t":"2004/3/7","v":-10.5},{"s":"Vietnam","t":"2004/7/13","v":-8},{"s":"Vietnam","t":"2004/10/19","v":-10.5},{"s":"Vietnam","t":"2005/2/1","v":-11.5},{"s":"Vietnam","t":"2005/6/13","v":-10.5},{"s":"Vietnam","t":"2005/11/7","v":-11},{"s":"Vietnam","t":"2006/4/4","v":-13},{"s":"Vietnam","t":"2006/9/1","v":-14},{"s":"Vietnam","t":"2007/1/28","v":-16.4},{"s":"Vietnam","t":"2007/5/1","v":-16.7},{"s":"Vietnam","t":"2007/8/16","v":-18.5},{"s":"Vietnam","t":"2007/12/13","v":-22},{"s":"Vietnam","t":"2008/2/25","v":-23},{"s":"Vietnam","t":"2008/6/7","v":-23.7},{"s":"Vietnam","t":"2008/9/13","v":-22},{"s":"Vietnam","t":"2008/12/19","v":-24.4},{"s":"Vietnam","t":"2009/4/22","v":-25.4},{"s":"Vietnam","t":"2009/7/28","v":-28},{"s":"Vietnam","t":"2009/10/10","v":-30},{"s":"Vietnam","t":"2009/12/25","v":-33}
  ]},
  "encoding": {
    "x": {"field": "t", "type": "temporal",
      "scale": {"domain": [{"year": 2000, "month": 1, "date": 3}, {"year": 2009, "month": 12, "date": 31}]},
      "axis": {"format": "%Y/%-m/%-d", "labelAngle": 270, "labelAlign": "right", "labelBaseline": "middle", "labelFontSize": 10, "labelPadding": 3, "tickSize": 3, "grid": false, "labelOverlap": false, "labelFlush": false,
        "values": [
          {"year":2000,"month":1,"date":3},{"year":2000,"month":5,"date":3},{"year":2000,"month":9,"date":3},
          {"year":2001,"month":1,"date":3},{"year":2001,"month":5,"date":3},{"year":2001,"month":9,"date":3},
          {"year":2002,"month":1,"date":3},{"year":2002,"month":5,"date":3},{"year":2002,"month":9,"date":3},
          {"year":2003,"month":1,"date":3},{"year":2003,"month":5,"date":3},{"year":2003,"month":9,"date":3},
          {"year":2004,"month":1,"date":3},{"year":2004,"month":5,"date":3},{"year":2004,"month":9,"date":3},
          {"year":2005,"month":1,"date":3},{"year":2005,"month":5,"date":3},{"year":2005,"month":9,"date":3},
          {"year":2006,"month":1,"date":3},{"year":2006,"month":5,"date":3},{"year":2006,"month":9,"date":3},
          {"year":2007,"month":1,"date":3},{"year":2007,"month":5,"date":3},{"year":2007,"month":9,"date":3},
          {"year":2008,"month":1,"date":3},{"year":2008,"month":5,"date":3},{"year":2008,"month":9,"date":3},
          {"year":2009,"month":1,"date":3},{"year":2009,"month":5,"date":3},{"year":2009,"month":9,"date":3}
        ]}},
    "y": {"field": "v", "type": "quantitative",
      "scale": {"domain": [-40, 60], "nice": false, "zero": false},
      "axis": {"values": [-40,-30,-20,-10,0,10,20,30,40,50,60], "labelFontSize": 9, "tickSize": 4, "labelPadding": 2, "grid": true, "gridWidth": 1,
        "gridColor": {"condition": {"test": "datum.value === 60", "value": "#808080"}, "value": "black"}}},
    "color": {"field": "s", "type": "nominal",
      "scale": {
        "domain": ["Australia","Brunei Darussalam","Cambodia","China P.R.","India","Indonesia","Japan","South Korea","Laos","Malaysia","Myanmar","New Zealand","Philippines","Singapore","Thailand","Vietnam"],
        "range": ["#000080","#FF00FF","#FFFF00","#00FFFF","#8B1C8B","#800000","#FF2000","#0000FF","#00CCFF","#CCFFFF","#CCFFCC","#FFFF99","#99CCFF","#FF99CC","#CC99FF","#FFCC99"]},
      "legend": {"title": null, "orient": "none", "legendX": 503, "legendY": 37, "padding": 6, "fillColor": "white", "strokeColor": "black",
        "symbolType": "M-1.6,0H1.6", "symbolSize": 169, "symbolStrokeWidth": 1.5, "rowPadding": 0, "labelOffset": 5,
        "labelFont": "Liberation Sans", "labelFontSize": 8, "labelColor": "black",
        "encode": {"symbols": {"update": {"shape": {"signal": "datum.value === 'India' ? 'M-1.6,0H1.6M-0.35,-0.35L0.35,0.35M-0.35,0.35L0.35,-0.35M0,-0.45V0.45' : 'M-1.6,0H1.6'"}}}}}}
  },
  "layer": [
    {"transform": [{"filter": {"field": "s", "oneOf": ["Australia","Brunei Darussalam","Cambodia","China P.R."]}}],
     "mark": {"type": "line", "strokeWidth": 1.5, "clip": true}},
    {"transform": [{"filter": {"field": "s", "equal": "India"}}],
     "mark": {"type": "line", "strokeWidth": 8, "clip": true}},
    {"transform": [{"filter": {"field": "s", "oneOf": ["Indonesia","Japan","South Korea","Laos","Malaysia","Myanmar","New Zealand","Philippines","Singapore","Thailand","Vietnam"]}}],
     "mark": {"type": "line", "strokeWidth": 1.5, "clip": true}}
  ]
}
